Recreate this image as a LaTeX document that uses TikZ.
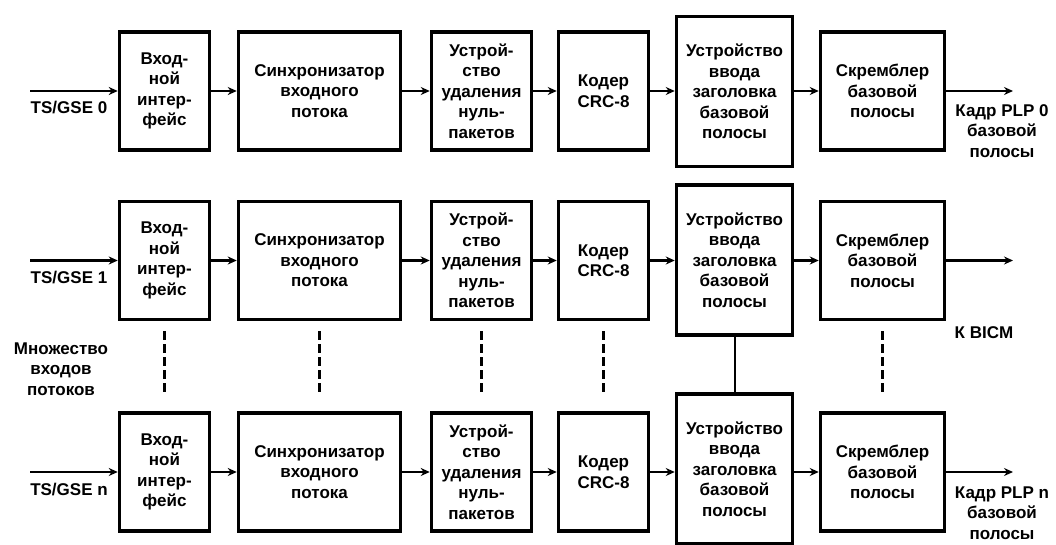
\documentclass[tikz,border=0pt]{standalone}
\usepackage{fontspec}
\setmainfont{Liberation Sans}
\usetikzlibrary{arrows.meta}
\begin{document}
\begin{tikzpicture}[x=1pt,y=-1pt,
  txt/.style={font=\bfseries\fontsize{17}{20.5}\selectfont, align=center, inner sep=0pt},
  blk/.style={txt, draw, line width=3.5pt, minimum height=118pt},
  hdr/.style={blk, minimum height=150pt},
  flow/.style={line width=2.5pt, -{Stealth[length=9pt,width=8pt]}},
  link/.style={line width=2.5pt, dashed, dash pattern=on 9pt off 4pt},
  tie/.style={line width=2pt}
]
\useasboundingbox (0,0) rectangle (1056,545);

% three processing chains: 0, 1 and n
\foreach \r/\y/\hy in {0/91/91.5, 1/260.5/260, n/472/469}{
  \node[blk, minimum width=90pt]  (b1-\r) at (164.5,\y) {Вход-\\ной\\интер-\\фейс};
  \node[blk, minimum width=162pt] (b2-\r) at (319.5,\y) {Синхронизатор\\входного\\потока};
  \node[blk, minimum width=100pt] (b3-\r) at (481.5,\y) {Устрой-\\ство\\удаления\\нуль-\\пакетов};
  \node[blk, minimum width=90pt]  (b4-\r) at (603.5,\y) {Кодер\\CRC-8};
  \node[hdr, minimum width=116pt] (b5-\r) at (734.5,\hy) {Устройство\\ввода\\заголовка\\базовой\\полосы};
  \node[blk, minimum width=124pt] (b6-\r) at (882.5,\y) {Скремблер\\базовой\\полосы};
  \coordinate (in-\r) at (30,\y);
  \coordinate (out-\r) at (1013,\y);
  \draw[flow] (in-\r) -- (b1-\r);
  \draw[flow] (b1-\r) -- (b2-\r);
  \draw[flow] (b2-\r) -- (b3-\r);
  \draw[flow] (b3-\r) -- (b4-\r);
  \draw[flow] (b4-\r.east) -- (b5-\r.west |- b4-\r.east);
  \draw[flow] (b5-\r.east |- b6-\r.west) -- (b6-\r.west);
  \draw[flow] (b6-\r) -- (out-\r);
}

% stream labels
\node[txt] (ts0) at (69,108) {TS/GSE 0};
\node[txt] (ts1) at (69,278) {TS/GSE 1};
\node[txt] (tsn) at (69,490) {TS/GSE n};
\node[txt] (many) at (61,369) {Множество\\входов\\потоков};
\node[txt] (plp0) at (1002,131) {Кадр PLP 0\\базовой\\полосы};
\node[txt] (bicm) at (984,333) {К BICM};
\node[txt] (plpn) at (1002,513) {Кадр PLP n\\базовой\\полосы};

% continuation between chain 1 and chain n
\foreach \b in {b1,b2,b3,b4,b6}{
  \draw[link, shorten <=10pt, shorten >=19pt] (\b-1.south) -- (\b-n.north);
}
\draw[tie] (b5-1.south) -- (b5-n.north);
\end{tikzpicture}
\end{document}
